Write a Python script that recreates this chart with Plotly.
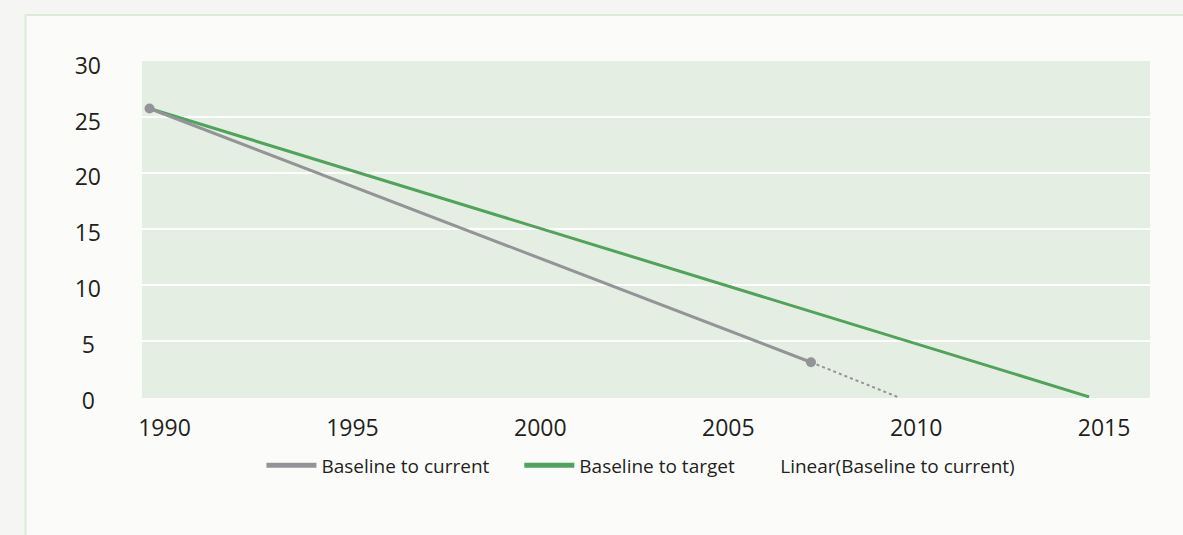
import plotly.graph_objects as go

# Emissions pathway: baseline year, latest measured year and target year
current_years = [1990, 2007.6]
current_values = [25.8, 3.1]

target_years = [1990, 2015]
target_values = [25.8, 0]

trend_years = [2007.6, 2009.9]
trend_values = [3.1, 0]

x_ticks = [1990, 1995, 2000, 2005, 2010, 2015]
y_ticks = [0, 5, 10, 15, 20, 25, 30]
y_grid = [5, 10, 15, 20, 25]

series_names = ["Baseline to current", "Baseline to target", "Linear(Baseline to current)"]

GREY = "#939497"
GREEN = "#4fa35a"
TEXT = "#231f20"
FONT = "Open Sans"

W, H = 1183, 535
L, R, T, B = 141.5, 33, 61, 136.5
pw, ph = W - L - R, H - T - B

fig = go.Figure()

fig.add_trace(go.Scatter(
    x=target_years, y=target_values, mode="lines", showlegend=False,
    line=dict(color=GREEN, width=3),
))
fig.add_trace(go.Scatter(
    x=current_years, y=current_values, mode="lines+markers", showlegend=False,
    line=dict(color=GREY, width=3), marker=dict(size=10, color=GREY),
))
fig.add_trace(go.Scatter(
    x=trend_years, y=trend_values, mode="lines", showlegend=False,
    line=dict(color=GREY, width=2, dash="dot"),
))

# legend keys: plain bars for the two series, text only for the trendline,
# each in its own legend box so the entries can be spaced individually
legend_colors = [GREY, GREEN, "rgba(0,0,0,0)"]
legend_ids = ["legend", "legend2", "legend3"]
legend_left_px = [261, 519, 720]
for name, color, lid in zip(series_names, legend_colors, legend_ids):
    fig.add_trace(go.Scatter(
        x=[None], y=[None], name=name, mode="lines",
        line=dict(color=color, width=5), legend=lid,
    ))

# card behind the chart, then the plot-area fill on top of it
fig.add_shape(
    type="rect", xref="paper", yref="paper",
    x0=(25 - L) / pw, x1=1.3, y0=-0.8, y1=1 + (T - 15) / ph,
    fillcolor="#fbfcfa", line=dict(color="#dcead8", width=2), layer="below",
)
fig.add_shape(
    type="rect", xref="paper", yref="paper", x0=0, x1=1, y0=0, y1=1,
    fillcolor="#e5eee2", line=dict(width=0), layer="below",
)


def tick_label(v):
    # pad one-digit labels so the column of numbers is centred
    return f"{v}\u2008" if v < 10 else str(v)


def legend_box(left_px):
    return dict(
        orientation="h", x=(left_px - L) / pw, xanchor="left",
        y=(T + ph - 466) / ph, yanchor="middle",
        font=dict(size=19, color=TEXT, family=FONT),
        bgcolor="rgba(0,0,0,0)", itemclick=False, itemwidth=50,
    )


fig.update_layout(
    width=W, height=H,
    margin=dict(l=L, r=R, t=T, b=B, pad=0),
    paper_bgcolor="#f5f6f3",
    plot_bgcolor="#e5eee2",
    font=dict(family=FONT, color=TEXT),
    showlegend=True,
    legend=legend_box(legend_left_px[0]),
    legend2=legend_box(legend_left_px[1]),
    legend3=legend_box(legend_left_px[2]),
    xaxis=dict(
        range=[1989.8, 2016.62], tickvals=x_ticks, ticktext=[str(v) for v in x_ticks],
        showgrid=False, zeroline=False, showline=False, ticks="",
        tickfont=dict(size=23, color=TEXT, family=FONT),
        ticklabelshift=15, ticklabelstandoff=14,
    ),
    yaxis=dict(
        range=[-0.1, 30.05], tickvals=y_ticks, ticktext=[tick_label(v) for v in y_ticks],
        showgrid=False, zeroline=False, showline=False, ticks="",
        tickfont=dict(size=23, color=TEXT, family=FONT),
        ticklabelstandoff=40, ticklabelshift=4,
        minor=dict(tickvals=y_grid, showgrid=True, gridcolor="#ffffff", gridwidth=2, ticks=""),
    ),
)

fig.write_html("out.html")
